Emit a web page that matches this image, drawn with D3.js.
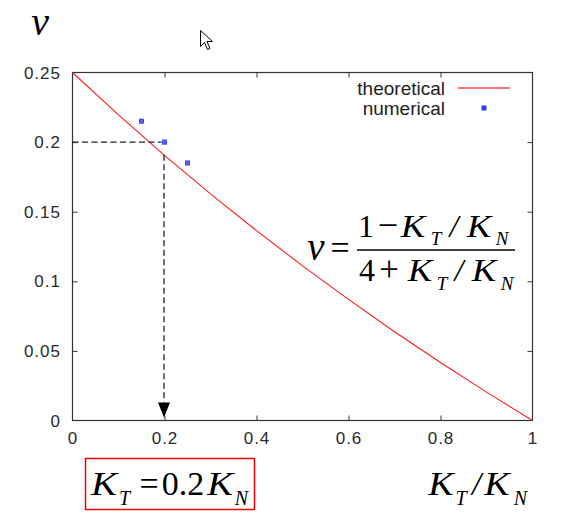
<!DOCTYPE html>
<html>
<head>
<meta charset="utf-8">
<script src="https://cdn.jsdelivr.net/npm/d3@7"></script>
<style>
  html, body { margin: 0; padding: 0; background: #fff; }
  svg { display: block; }
</style>
</head>
<body>
<svg id="chart" width="564" height="522"></svg>
<script>
// ---------- data ----------
const theoX = [0, 0.1, 0.2, 0.3, 0.4, 0.5, 0.6, 0.7, 0.8, 0.9, 1.0];
const theoY = [0.25, 0.2195, 0.1905, 0.1628, 0.1364, 0.1111, 0.0870, 0.0638, 0.0417, 0.0204, 0];
const numX = [0.15, 0.2, 0.25];
const numY = [0.215, 0.2, 0.185];
const xTicks = [0, 0.2, 0.4, 0.6, 0.8, 1];
const xTickLabels = ["0", "0.2", "0.4", "0.6", "0.8", "1"];
const yTicks = [0, 0.05, 0.1, 0.15, 0.2, 0.25];
const yTickLabels = ["0", "0.05", "0.1", "0.15", "0.2", "0.25"];
const legendLabels = ["theoretical", "numerical"];
const guideX = 0.2, guideY = 0.2;

// ---------- layout ----------
const svg = d3.select("#chart");
const L = 72.5, R = 532.5, T = 72.5, B = 420.5;
const x = d3.scaleLinear().domain([0, 1]).range([L, R]);
const y = d3.scaleLinear().domain([0, 0.25]).range([B, T]);
const axisColor = "#333";
const sans = "'Liberation Sans', Arial, Helvetica, sans-serif";
const serif = "'Liberation Serif', 'Times New Roman', serif";

// frame
svg.append("rect").attr("x", L).attr("y", T).attr("width", R - L).attr("height", B - T)
  .attr("fill", "none").attr("stroke", axisColor).attr("stroke-width", 1.2);

// inner ticks on all sides
const tl = 5;
const xAxisB = d3.axisBottom(x).tickValues(xTicks.slice(1, -1)).tickSizeInner(-tl).tickSizeOuter(0).tickFormat("");
const xAxisT = d3.axisTop(x).tickValues(xTicks.slice(1, -1)).tickSizeInner(-tl).tickSizeOuter(0).tickFormat("");
const yAxisL = d3.axisLeft(y).tickValues(yTicks.slice(1, -1)).tickSizeInner(-tl).tickSizeOuter(0).tickFormat("");
const yAxisR = d3.axisRight(y).tickValues(yTicks.slice(1, -1)).tickSizeInner(-tl).tickSizeOuter(0).tickFormat("");
[[xAxisB, `translate(0,${B})`], [xAxisT, `translate(0,${T})`], [yAxisL, `translate(${L},0)`], [yAxisR, `translate(${R},0)`]]
  .forEach(([ax, tr]) => {
    const g = svg.append("g").attr("transform", tr).call(ax);
    g.select(".domain").remove();
    g.selectAll("line").attr("stroke", axisColor).attr("stroke-width", 1);
  });

// tick labels
svg.append("g").selectAll("text").data(xTicks).join("text")
  .attr("x", d => x(d) + 0.5).attr("y", 444)
  .attr("text-anchor", "middle")
  .attr("font-family", sans).attr("font-size", 17).attr("letter-spacing", 1).attr("fill", "#2a2a2a")
  .text((d, i) => xTickLabels[i]);
svg.append("g").selectAll("text").data(yTicks).join("text")
  .attr("x", 61).attr("y", d => y(d) + 6)
  .attr("text-anchor", "end")
  .attr("font-family", sans).attr("font-size", 17).attr("letter-spacing", 1).attr("fill", "#2a2a2a")
  .text((d, i) => yTickLabels[i]);

// theoretical line
const line = d3.line().x((d, i) => x(theoX[i])).y(d => y(d));
svg.append("path").datum(theoY).attr("d", line)
  .attr("fill", "none").attr("stroke", "#ff1a1a").attr("stroke-width", 1.1);

// dashed guides
svg.append("line")
  .attr("x1", x(0)).attr("x2", x(guideX) - 3).attr("y1", y(guideY)).attr("y2", y(guideY))
  .attr("stroke", "#222").attr("stroke-width", 1.3).attr("stroke-dasharray", "6,3.5");
const vx = x(guideX) - 0.5;
svg.append("line")
  .attr("x1", vx).attr("x2", vx).attr("y1", y(0.191)).attr("y2", B - 18)
  .attr("stroke", "#222").attr("stroke-width", 1.3).attr("stroke-dasharray", "6,3.5");
svg.append("path")
  .attr("d", `M${vx - 6},${B - 18}L${vx + 6},${B - 18}L${vx},${B - 3}Z`)
  .attr("fill", "#000");

// numerical points
const pts = svg.append("g");
numX.forEach((xv, i) => {
  const cx = x(xv), cy = y(numY[i]);
  pts.append("rect").attr("x", cx - 2.5).attr("y", cy - 2.5).attr("width", 5).attr("height", 5)
    .attr("fill", "#2a3cf0");
  pts.append("path").attr("d", `M${cx - 2.5},${cy - 2.5}L${cx + 2.5},${cy + 2.5}M${cx + 2.5},${cy - 2.5}L${cx - 2.5},${cy + 2.5}`)
    .attr("stroke", "#8a96ff").attr("stroke-width", 0.8);
});

// legend
const legY = [88, 108];
svg.append("g").selectAll("text").data(legendLabels).join("text")
  .attr("x", 445).attr("y", (d, i) => legY[i] + 6.5)
  .attr("text-anchor", "end")
  .attr("font-family", sans).attr("font-size", 19).attr("fill", "#222")
  .text(d => d);
svg.append("line").attr("x1", 458).attr("x2", 510).attr("y1", legY[0]).attr("y2", legY[0])
  .attr("stroke", "#ff4444").attr("stroke-width", 1.6);
svg.append("rect").attr("x", 484 - 2.5).attr("y", legY[1] - 2.5).attr("width", 5).attr("height", 5)
  .attr("fill", "#2a3cf0");

// helper to place math glyphs
function glyph(txt, cx, base, size, italic, sx) {
  svg.append("text")
    .attr("transform", `translate(${cx},${base}) scale(${sx || 1},1)`)
    .attr("text-anchor", "middle")
    .attr("font-family", serif).attr("font-size", size)
    .attr("font-style", italic ? "italic" : "normal")
    .attr("fill", "#000").text(txt);
}
const KS = 1.15;

// y label ν
glyph("ν", 40, 35, 40, true);

// formula
glyph("ν", 316, 260, 39, true);
glyph("=", 340, 259, 34, false);
svg.append("line").attr("x1", 357).attr("x2", 515).attr("y1", 250).attr("y2", 250)
  .attr("stroke", "#000").attr("stroke-width", 1.6);
// numerator
glyph("1", 366, 237, 32, false);
glyph("−", 388, 237, 36, false);
glyph("K", 413, 237, 32, true, KS);
glyph("T", 436, 245, 19, true);
glyph("/", 454, 237, 32, true);
glyph("K", 479, 237, 32, true, KS);
glyph("N", 502, 245, 19, true);
// denominator
glyph("4", 367, 281, 32, false);
glyph("+", 389, 281, 35, false);
glyph("K", 420, 281, 32, true, KS);
glyph("T", 442, 290, 19, true);
glyph("/", 459, 281, 32, true);
glyph("K", 484, 281, 32, true, KS);
glyph("N", 507, 290, 19, true);

// bottom box K_T = 0.2 K_N
svg.append("rect").attr("x", 85.5).attr("y", 458.5).attr("width", 169).attr("height", 51)
  .attr("fill", "none").attr("stroke", "#e00").attr("stroke-width", 1.5);
glyph("K", 104, 495, 34, true, KS);
glyph("T", 124.5, 505, 20, true);
glyph("=", 149, 495, 34, false);
glyph("0.2", 183, 495, 34, false);
glyph("K", 220, 495, 34, true, KS);
glyph("N", 241.5, 505, 20, true);

// x label K_T / K_N
glyph("K", 441, 495, 33, true, KS);
glyph("T", 461, 505, 20, true);
glyph("/", 476.5, 495, 33, true);
glyph("K", 497, 495, 33, true, KS);
glyph("N", 520.5, 505, 20, true);

// mouse cursor
svg.append("path")
  .attr("d", "M200.5,30.5 L200.5,46.5 L204.5,42.5 L207.5,49.5 L210,48.5 L207,41.5 L212.5,41.5 Z")
  .attr("fill", "#fff").attr("stroke", "#000").attr("stroke-width", 1);
</script>
</body>
</html>
